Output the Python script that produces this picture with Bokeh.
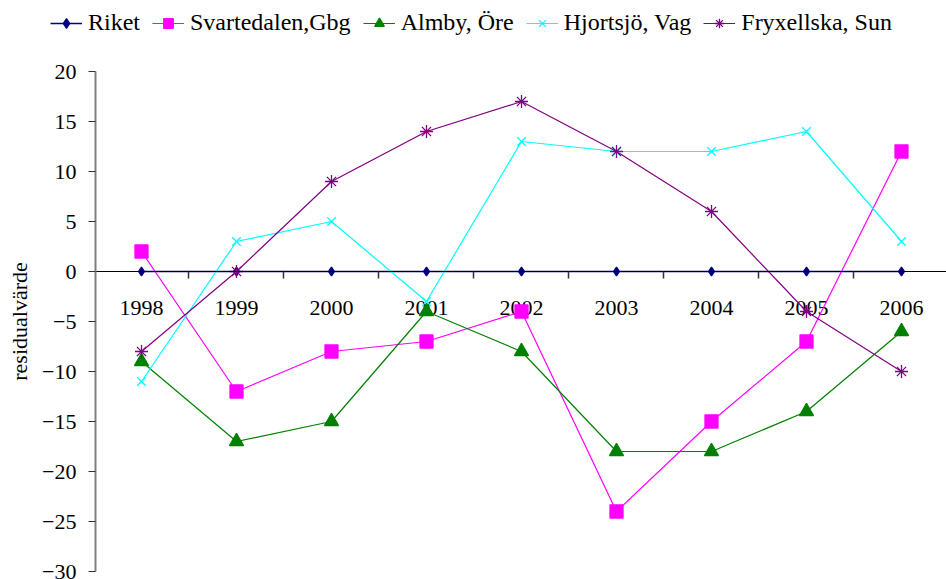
from bokeh.plotting import figure
from bokeh.models import (Range1d, LinearAxis, FixedTicker, Legend, LegendItem)
from bokeh.core.properties import value
from bokeh.embed import file_html
from bokeh.resources import INLINE

years = ["1998", "1999", "2000", "2001", "2002", "2003", "2004", "2005", "2006"]
riket = [0, 0, 0, 0, 0, 0, 0, 0, 0]
svartedalen = [2, -12, -8, -7, -4, -24, -15, -7, 12]
almby = [-9, -17, -15, -4, -8, -18, -18, -14, -6]
hjortsjo = [-11, 3, 5, -3, 13, 12, 12, 14, 3]
fryxellska = [-8, 0, 9, 14, 17, 12, 6, -4, -10]
y_ticks = [-30, -25, -20, -15, -10, -5, 0, 5, 10, 15, 20]

series = [
    ("Riket", riket, "#000080", "diamond", 9),
    ("Svartedalen,Gbg", svartedalen, "#FF00FF", "square", 13),
    ("Almby, Öre", almby, "#008000", "triangle", 14),
    ("Hjortsjö, Vag", hjortsjo, "#00FFFF", "x", 12),
    ("Fryxellska, Sun", fryxellska, "#800080", "asterisk", 13),
]

FONT = "Liberation Serif"
xs = list(range(1, len(years) + 1))

W, H = 946, 579
# frame fills the whole figure; pixel scale: 95 px per category, 10 px per unit
x0, x1 = -0.4842, 9.4737
y_lo, y_hi = -30.8, 27.1
axis_x = 0.5158

p = figure(width=W, height=H, output_backend="svg", toolbar_location=None,
           x_range=Range1d(x0, x1), y_range=Range1d(y_lo, y_hi),
           min_border_left=0, min_border_right=0, min_border_top=0, min_border_bottom=0,
           x_axis_location=None, y_axis_location=None)
p.outline_line_color = None
p.xgrid.visible = False
p.ygrid.visible = False
p.background_fill_color = "white"

yaxis = LinearAxis(ticker=FixedTicker(ticks=y_ticks), fixed_location=axis_x,
                   bounds=(y_ticks[0], y_ticks[-1]))
yaxis.axis_line_color = "#808080"
yaxis.axis_line_width = 2
yaxis.major_tick_line_color = "#333333"
yaxis.major_tick_out = 7
yaxis.major_tick_in = 0
yaxis.minor_tick_line_color = None
yaxis.major_label_standoff = 12
yaxis.major_label_text_font = FONT
yaxis.major_label_text_font_size = "22px"
yaxis.major_label_text_color = "black"
yaxis.axis_label = "residualvärde"
yaxis.axis_label_text_font = FONT
yaxis.axis_label_text_font_size = "22px"
yaxis.axis_label_text_font_style = "normal"
yaxis.axis_label_text_color = "black"
yaxis.axis_label_standoff = 7
p.add_layout(yaxis, "left")

# category boundaries for tick marks on the zero axis
bounds = [x + 0.5 for x in xs[:-1]]
xaxis = LinearAxis(ticker=FixedTicker(ticks=bounds), fixed_location=0, bounds=(axis_x, x1))
xaxis.axis_line_color = "black"
xaxis.axis_line_width = 1
xaxis.major_tick_line_color = "#333333"
xaxis.major_tick_line_width = 1.5
xaxis.major_tick_out = 7
xaxis.major_tick_in = 0
xaxis.minor_tick_line_color = None
xaxis.major_label_text_alpha = 0
xaxis.major_label_text_font_size = "4px"
xaxis.major_label_overrides = {b: " " for b in bounds}
xaxis.major_label_standoff = 0
p.add_layout(xaxis, "below")

p.text(x=xs, y=[0] * len(xs), text=years, text_font=value(FONT), text_font_size="22px",
       text_align="center", text_baseline="middle", y_offset=36, text_color="black")

items = []
for name, vals, color, marker, size in series:
    lr = p.line(xs, vals, line_color=color, line_width=1.5 if name == "Riket" else 1.2)
    sr = p.scatter(xs, vals, marker=marker, size=size, fill_color=color, line_color=color,
                   line_width=1.3)
    items.append(LegendItem(label=name, renderers=[lr, sr]))

legend = Legend(items=items, orientation="horizontal", location=(50, H - 36))
legend.label_text_font = FONT
legend.label_text_font_size = "24px"
legend.label_text_color = "black"
legend.glyph_width = 32
legend.glyph_height = 24
legend.label_height = 24
legend.label_standoff = 6
legend.spacing = 12
legend.padding = 0
legend.margin = 0
legend.border_line_color = None
legend.background_fill_alpha = 0
p.add_layout(legend, "center")

open("out.html", "w").write(file_html(p, INLINE))
